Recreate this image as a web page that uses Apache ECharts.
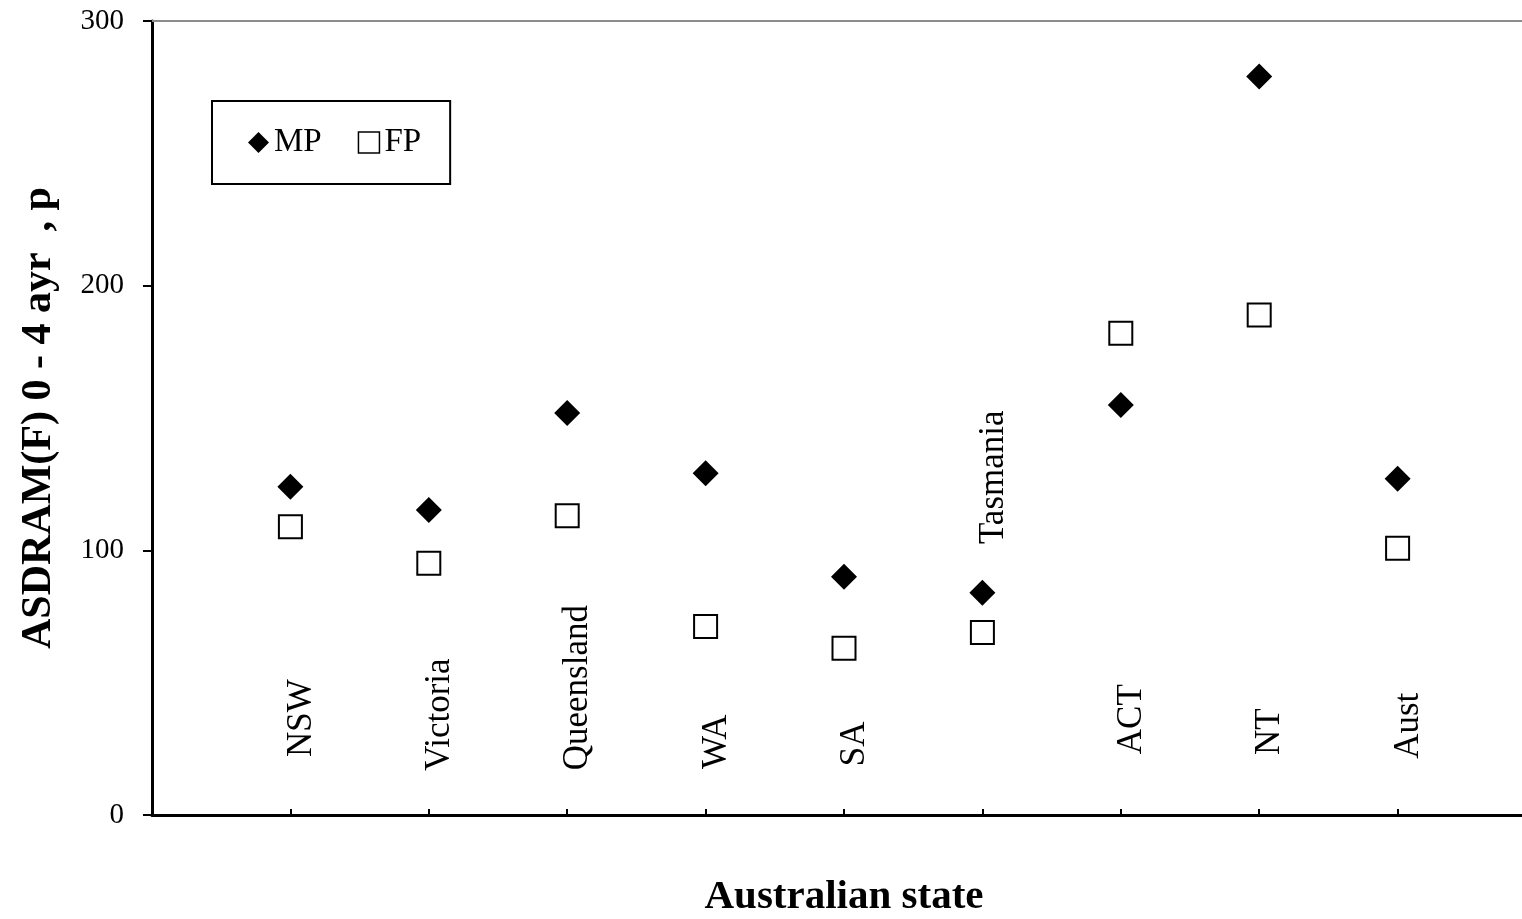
<!DOCTYPE html>
<html>
<head>
<meta charset="utf-8">
<script src="https://cdn.jsdelivr.net/npm/echarts@6/dist/echarts.min.js"></script>
<style>
  html, body { margin: 0; padding: 0; background: #fff; overflow: hidden; }
  #chart { width: 1522px; height: 919px; }
</style>
</head>
<body>
<div id="chart"></div>
<script>
const categories = ['NSW', 'Victoria', 'Queensland', 'WA', 'SA', 'Tasmania', 'ACT', 'NT', 'Aust'];
const mpValues = [124.0, 115.2, 151.9, 129.1, 90.0, 84.0, 154.9, 279.0, 127.0];
const fpValues = [108.9, 95.1, 113.1, 71.2, 63.0, 69.0, 182.0, 188.9, 100.8];
const labelY = [36.6, 37.9, 48.1, 27.7, 26.9, 127.6, 36.2, 31.5, 33.7];
const yTicks = [0, 100, 200, 300];

const FONT = '"Liberation Serif", "Times New Roman", serif';

const chart = echarts.init(document.getElementById('chart'), null, { renderer: 'canvas', width: 1522, height: 919 });

const mpData = mpValues.map((v, i) => [i + 1, v]);
const fpData = fpValues.map((v, i) => [i + 1, v]);
const labelData = labelY.map((v, i) => ({ value: [i + 1, v], name: categories[i] }));

chart.setOption({
  backgroundColor: '#fff',
  animation: false,
  grid: { left: 152, top: 21, width: 1384, height: 794, containLabel: false, outerBoundsMode: 'none' },
  legend: {
    left: 212, top: 101,
    orient: 'horizontal',
    borderColor: '#000', borderWidth: 2,
    padding: [25, 29, 25, 36],
    itemWidth: 21, itemHeight: 21, itemGap: 36,
    textStyle: { fontFamily: FONT, fontSize: 33, color: '#000' },
    data: [
      { name: 'MP', icon: 'diamond', itemStyle: { color: '#000', borderWidth: 0, opacity: 1 } },
      { name: 'FP', icon: 'rect', itemStyle: { color: '#fff', borderColor: '#000', borderWidth: 1.5, opacity: 1 } }
    ]
  },
  xAxis: [
    {
      type: 'value', min: 0, max: 10, interval: 1,
      position: 'bottom',
      name: 'Australian state', nameLocation: 'middle', nameGap: 62,
      nameTextStyle: { fontFamily: FONT, fontSize: 41, fontWeight: 'bold', color: '#000' },
      axisLine: { show: true, onZero: false, lineStyle: { color: '#000', width: 3 } },
      axisTick: { show: true, inside: true, length: 6, lineStyle: { color: '#000', width: 2 } },
      axisLabel: { show: false },
      splitLine: { show: false }
    },
    {
      type: 'value', min: 0, max: 10, interval: 1,
      position: 'top',
      axisLine: { show: true, onZero: false, lineStyle: { color: '#8c8c8c', width: 2 } },
      axisTick: { show: false },
      axisLabel: { show: false },
      splitLine: { show: false }
    }
  ],
  yAxis: {
    type: 'value', min: yTicks[0], max: yTicks[yTicks.length - 1], interval: 100,
    name: 'ASDRAM(F) 0 - 4 ayr  , p', nameLocation: 'middle', nameGap: 92, nameRotate: 90,
    nameTextStyle: { fontFamily: FONT, fontSize: 42, fontWeight: 'bold', color: '#000' },
    axisLine: { show: true, lineStyle: { color: '#000', width: 3 } },
    axisTick: { show: true, inside: false, length: 9, lineStyle: { color: '#000', width: 2 } },
    axisLabel: { fontFamily: FONT, fontSize: 29, color: '#000', margin: 28 },
    splitLine: { show: false }
  },
  series: [
    {
      name: 'MP', type: 'scatter', data: mpData,
      symbol: 'diamond', symbolSize: 26,
      itemStyle: { color: '#000', opacity: 1 },
      emphasis: { disabled: true }, z: 3
    },
    {
      name: 'FP', type: 'scatter', data: fpData,
      symbol: 'rect', symbolSize: 23,
      itemStyle: { color: '#fff', borderColor: '#000', borderWidth: 2, opacity: 1 },
      emphasis: { disabled: true }, z: 3
    },
    {
      name: 'labels', type: 'scatter', data: labelData,
      symbolSize: 0, silent: true,
      itemStyle: { opacity: 1 },
      emphasis: { disabled: true },
      label: {
        show: true, position: 'inside', rotate: 90, offset: [0, 11],
        formatter: p => p.name,
        fontFamily: FONT, fontSize: 35, color: '#000', opacity: 1
      },
      z: 2
    }
  ]
});
</script>
</body>
</html>
